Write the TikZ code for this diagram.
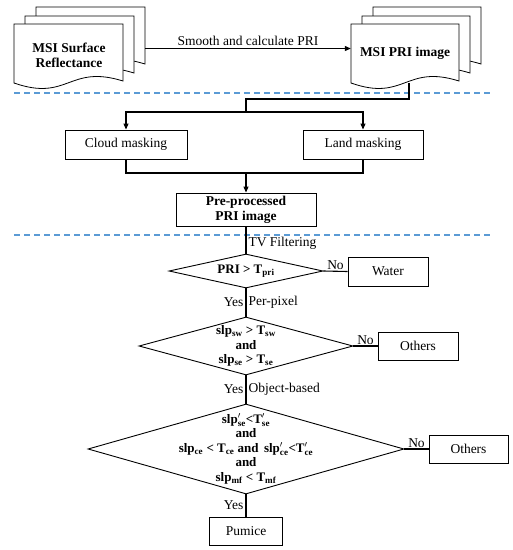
\documentclass[tikz,border=0pt]{standalone}
\usepackage{amsmath}
\usepackage{fontspec}
\setmainfont{Liberation Serif}
\usetikzlibrary{arrows.meta, shapes.geometric}

% one page of a document stack (left x, top y, width)
\newcommand{\docpage}[3]{%
    \draw[page] (#1,#2) -- (#1+#3,#2) -- (#1+#3,#2+57)
        .. controls (#1+0.5*#3,#2+40) and (#1+0.5*#3,#2+78) .. (#1,#2+59) -- cycle;
}
\newcommand{\slpp}[1]{slp$'_{\text{#1}}$}
\newcommand{\tpr}[1]{T$'_{\text{#1}}$}

\begin{document}
\begin{tikzpicture}[x=1pt, y=-1pt,
    page/.style={draw, fill=white, line width=0.8pt},
    stack/.style={inner sep=0, minimum width=#1, minimum height=83},
    box/.style={draw, line width=0.9pt, inner sep=0, minimum height=29},
    decision/.style={diamond, draw, line width=0.9pt, inner sep=0},
    dectext/.style={align=center, font=\fontsize{13}{14.6}\selectfont\bfseries, inner sep=0},
    line/.style={line width=1.1pt},
    arrow/.style={line width=1.1pt, -{Triangle[length=6pt, width=5pt]}},
    sep/.style={line width=1.4pt, color={rgb,255:red,91;green,155;blue,213}, dash pattern=on 6pt off 4pt},
    every node/.append style={font=\fontsize{13.5}{15}\selectfont}]
    \useasboundingbox (0,0) rectangle (513,550);

    % Input and PRI document stacks
    \docpage{36}{7}{109}
    \docpage{25}{16}{109}
    \docpage{14}{24}{109}
    \docpage{373}{7}{108}
    \docpage{362}{16}{108}
    \docpage{351}{24}{108}
    \node[stack=131] (refl) at (79.5,48.5) {};
    \node[stack=130] (pri) at (416,48.5) {};
    \node[align=center, font=\fontsize{13.5}{15}\selectfont\bfseries] (refltxt) at (69,55) {MSI Surface\\Reflectance};
    \node[font=\fontsize{13.5}{15}\selectfont\bfseries] (pritxt) at (405,53) {MSI PRI image};
    \draw[arrow] (refl.east) -- (pri.west)
        node[midway, above, inner sep=2pt] {Smooth and calculate PRI};

    % Separators
    \draw[sep] (14,93) -- (490,93);
    \draw[sep] (14,235) -- (490,235);

    % Masking
    \node[box, minimum width=122] (cloud) at (126,144.5) {Cloud masking};
    \node[box, minimum width=120] (land) at (363,144.5) {Land masking};
    \node[box, minimum width=140, minimum height=33, align=center,
        font=\fontsize{13.5}{15}\selectfont\bfseries] (prep) at (246,209.5) {Pre-processed\\PRI image};
    \coordinate (pribot) at (409,83);
    \coordinate (split) at (246,112);
    \coordinate (merge) at (246,173);
    \draw[line] (pribot) -- ++(0,16) -| (split);
    \draw[arrow] (split) -| (cloud.north);
    \draw[arrow] (split) -| (land.north);
    \draw[line] (cloud.south) |- (merge);
    \draw[line] (land.south) |- (merge);
    \draw[arrow] (merge) -- (prep.north);

    % Decisions
    \node[decision, minimum width=154, minimum height=34] (dec1) at (246,271) {};
    \node[dectext] (dec1txt) at (dec1) {PRI > T\textsubscript{pri}};
    \node[box, minimum width=80] (water) at (388,271.5) {Water};
    \draw[line] (prep.south) -- (dec1.north) node[pos=0.62, right, inner sep=2pt] {TV Filtering};
    \draw[line] (dec1.east) -- (water.west) node[midway, above, inner sep=1pt] {No};

    \node[decision, minimum width=214, minimum height=58] (dec2) at (246,346) {};
    \node[dectext] (dec2txt) at (dec2) {slp\textsubscript{sw} > T\textsubscript{sw}\\and\\slp\textsubscript{se} > T\textsubscript{se}};
    \node[box, minimum width=80, minimum height=28] (others1) at (418,346) {Others};
    \draw[line] (dec1.south) -- (dec2.north)
        node[midway, left, inner sep=2pt] {Yes} node[midway, right, inner sep=2pt] {Per-pixel};
    \draw[line] (dec2.east) -- (others1.west) node[midway, above, inner sep=1pt] {No};

    \node[decision, minimum width=316, minimum height=90] (dec3) at (246,449) {};
    \node[dectext] (dec3txt) at (dec3) {\slpp{se}<\tpr{se}\\and\\slp\textsubscript{ce} < T\textsubscript{ce} and\, \slpp{ce}<\tpr{ce}\\and\\slp\textsubscript{mf} < T\textsubscript{mf}};
    \node[box, minimum width=79, minimum height=28] (others2) at (468.5,449) {Others};
    \draw[line] (dec2.south) -- (dec3.north)
        node[midway, left, inner sep=2pt] {Yes} node[midway, right, inner sep=2pt] {Object-based};
    \draw[line] (dec3.east) -- (others2.west) node[midway, above, inner sep=1pt] {No};

    % Result
    \node[box, minimum width=73, minimum height=28] (pumice) at (246,531) {Pumice};
    \draw[line] (dec3.south) -- (pumice.north) node[midway, left, inner sep=2pt] {Yes};

\end{tikzpicture}
\end{document}
